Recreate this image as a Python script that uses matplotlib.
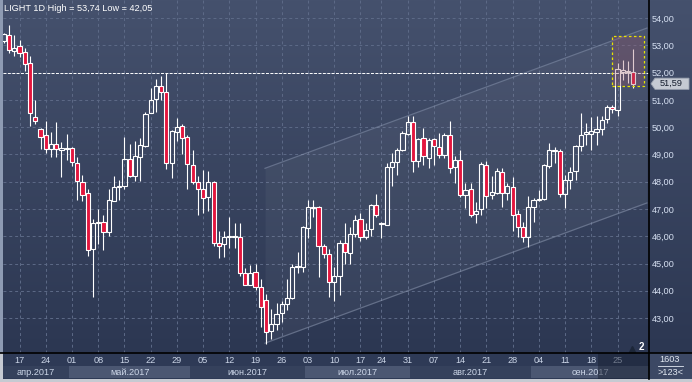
import numpy as np
import pandas as pd
import matplotlib
matplotlib.use("Agg")
import matplotlib.pyplot as plt
from matplotlib.lines import Line2D
from matplotlib.patches import Rectangle, Polygon
from matplotlib.transforms import blended_transform_factory
from matplotlib.ticker import FuncFormatter

plt.rcParams['font.family'] = ['Liberation Sans', 'DejaVu Sans']

# daily OHLC (12 Apr .. 28 Sep 2017)
opens = [53.17, 53.38, 52.80, 52.97, 52.74, 52.34, 50.38, 49.92, 49.71, 49.21,
         49.37, 49.15, 49.19, 49.22, 48.69, 48.00, 47.57, 45.52, 46.47, 46.51,
         46.16, 47.30, 47.81, 47.85, 48.82, 48.22, 48.91, 49.31, 50.53, 51.02,
         51.51, 51.28, 48.67, 49.83, 50.04, 49.63, 48.61, 48.00, 47.75, 47.43,
         47.98, 45.77, 45.70, 45.98, 45.98, 45.98, 44.67, 44.23, 44.70, 44.13,
         43.68, 42.53, 42.77, 43.17, 43.51, 43.72, 44.88, 44.86, 46.29, 47.02,
         47.08, 45.64, 45.35, 44.33, 44.55, 45.77, 45.39, 46.10, 46.65, 45.98,
         46.25, 47.13, 46.46, 46.41, 48.55, 48.73, 49.16, 49.73, 50.17, 48.77,
         49.59, 48.88, 49.55, 49.28, 48.98, 49.71, 48.53, 48.79, 47.51, 47.72,
         46.81, 46.99, 48.61, 47.53, 47.59, 48.34, 47.57, 47.79, 46.80, 46.35,
         45.96, 47.06, 47.33, 47.35, 48.57, 49.12, 49.12, 47.55, 48.06, 48.40,
         49.32, 49.73, 49.75, 49.83, 49.93, 50.30, 50.73, 50.63, 52.03, 52.01,
         52.03]
highs = [53.45, 53.74, 53.38, 53.19, 52.89, 52.61, 50.99, 49.95, 50.22, 49.81,
         50.19, 49.47, 49.75, 49.27, 48.91, 48.24, 47.75, 46.65, 46.99, 46.78,
         47.75, 48.21, 48.08, 49.63, 49.38, 49.49, 49.61, 50.56, 51.42, 51.76,
         51.87, 51.97, 49.90, 50.32, 50.11, 49.71, 49.16, 48.22, 48.43, 48.39,
         48.02, 46.19, 46.19, 46.69, 46.49, 46.47, 44.82, 44.94, 44.98, 44.42,
         43.87, 43.33, 43.54, 43.62, 44.45, 44.98, 45.43, 46.38, 47.33, 47.33,
         47.10, 45.70, 45.52, 44.88, 45.86, 46.47, 46.35, 46.78, 46.85, 46.49,
         47.20, 47.55, 46.52, 48.69, 49.04, 49.25, 49.84, 50.41, 50.41, 49.60,
         49.96, 49.60, 49.60, 49.77, 49.80, 50.23, 48.94, 49.16, 47.96, 47.96,
         47.26, 48.73, 48.77, 48.21, 48.49, 48.50, 47.94, 48.16, 46.96, 46.53,
         47.47, 47.39, 47.69, 48.66, 49.43, 49.28, 49.20, 48.24, 48.53, 49.36,
         50.51, 50.16, 50.36, 50.41, 50.41, 50.81, 50.80, 52.35, 52.46, 52.43,
         52.85]
lows = [53.10, 52.71, 52.62, 52.56, 52.07, 50.05, 50.10, 49.19, 49.04, 48.89,
        48.92, 48.18, 48.79, 48.58, 47.33, 47.30, 45.27, 43.78, 45.71, 45.49,
        46.01, 47.28, 47.33, 47.73, 48.18, 48.03, 48.03, 49.26, 50.50, 50.56,
        50.99, 48.45, 48.14, 49.50, 49.01, 47.75, 47.91, 46.78, 46.86, 46.93,
        45.64, 45.21, 45.25, 45.56, 45.56, 44.55, 44.21, 44.21, 44.03, 42.68,
        42.05, 42.25, 42.56, 42.86, 43.31, 43.70, 44.66, 44.69, 45.92, 46.71,
        44.51, 45.19, 43.78, 43.63, 43.84, 45.00, 45.00, 45.98, 45.83, 45.90,
        46.00, 46.69, 45.92, 46.41, 47.84, 48.24, 49.14, 49.70, 48.36, 48.55,
        48.62, 48.51, 48.62, 48.86, 48.86, 48.33, 47.96, 47.45, 47.02, 46.69,
        46.47, 46.78, 47.02, 47.35, 47.55, 47.06, 47.33, 46.20, 45.96, 45.80,
        45.59, 46.53, 47.30, 47.33, 48.50, 48.67, 47.45, 47.02, 47.73, 48.08,
        49.13, 49.34, 49.16, 49.34, 49.72, 50.15, 50.50, 50.42, 51.73, 51.63,
        51.42]
closes = [53.41, 52.83, 52.89, 52.71, 52.30, 50.50, 50.22, 49.63, 49.19, 49.37,
          49.19, 49.23, 49.23, 48.73, 48.03, 47.53, 45.49, 46.47, 46.51, 46.16,
          47.33, 47.79, 47.85, 48.82, 48.22, 48.94, 49.34, 50.47, 50.99, 51.51,
          51.28, 48.67, 49.86, 49.99, 49.59, 48.65, 48.00, 47.75, 47.39, 47.98,
          45.77, 45.65, 45.96, 46.00, 46.00, 44.66, 44.23, 44.67, 44.13, 43.39,
          42.50, 42.78, 43.15, 43.51, 43.72, 44.86, 44.91, 46.35, 47.08, 47.08,
          45.64, 45.35, 44.33, 44.54, 45.74, 45.41, 46.07, 46.61, 45.98, 46.22,
          47.13, 46.77, 46.49, 48.53, 48.71, 49.16, 49.77, 50.17, 48.77, 49.55,
          48.94, 49.53, 49.31, 48.98, 49.71, 48.49, 48.79, 47.51, 47.69, 46.78,
          46.92, 48.65, 47.49, 47.61, 48.40, 47.59, 47.84, 46.78, 46.35, 45.98,
          47.08, 47.33, 47.36, 48.61, 49.16, 49.16, 47.55, 48.06, 48.36, 49.31,
          49.71, 49.81, 49.86, 49.93, 50.26, 50.73, 50.66, 52.12, 52.09, 52.06,
          51.59]

dates = pd.bdate_range('2017-04-12', '2017-09-28').drop(pd.Timestamp('2017-07-20'))
month_names = ['апр', 'май', 'июн', 'июл', 'авг', 'сен']
price_ticks = list(range(43, 55))

# drawings on the chart
channel_x = [49.8, 122.6]
channel_upper = [48.49, 53.63]
channel_lower = [42.08, 47.22]
hline_level = 51.98
box_x = [116.0, 122.1]
box_y = [51.51, 53.34]
title = 'LIGHT 1D High = 53,74 Low = 42,05'

W, H = 692, 382
fig = plt.figure(figsize=(W / 100, H / 100), dpi=100, facecolor='#c6cad2')


def box(l, t, r, b):
    return [l / W, 1 - b / H, (r - l) / W, (b - t) / H]


top_c = np.array([0x45, 0x51, 0x6d]) / 255
bot_c = np.array([0x2c, 0x37, 0x52]) / 255
t = np.linspace(0, 1, 256)[:, None]
grad = (top_c * (1 - t) + bot_c * t)[:, None, :]

col = fig.add_axes(box(649, 0, 692, 353), zorder=0)
col.imshow(grad, extent=[0, 1, 0, 1], aspect='auto')
col.set_axis_off()

ax = fig.add_axes(box(3, 0, 649, 353), zorder=1)
xlim = (-0.15, 123.0)
ylim = (41.72, 54.66)
ax.imshow(grad, extent=[xlim[0], xlim[1], ylim[0], ylim[1]], aspect='auto', zorder=0)
ax.set_xlim(xlim)
ax.set_ylim(ylim)
for s in ax.spines.values():
    s.set_visible(False)

x = np.arange(len(opens))
o, h, l, c = map(np.array, (opens, highs, lows, closes))
mondays = [i for i, d in enumerate(dates) if d.weekday() == 0]

ax.set_xticks(mondays)
ax.set_yticks(price_ticks)
ax.grid(True, color='#5d6a87', linestyle=(0, (3, 3)), linewidth=0.7, zorder=0.5)
ax.set_axisbelow(True)
ax.tick_params(axis='x', length=0, labelbottom=False)
ax.yaxis.tick_right()
ax.tick_params(axis='y', length=0, pad=2.2, labelsize=6.6, labelcolor='#d6e0f2')
ax.yaxis.set_major_formatter(FuncFormatter(lambda v, p: f'{v:.2f}'.replace('.', ',')))

# trend channel
ax.fill_between(channel_x, channel_lower, channel_upper, color='white', alpha=0.045, lw=0, zorder=1)
ax.plot(channel_x, channel_upper, color='#8f9bb4', lw=0.9, alpha=0.5, zorder=1.5)
ax.plot(channel_x, channel_lower, color='#8f9bb4', lw=0.9, alpha=0.5, zorder=1.5)

ax.axhline(hline_level, color='white', lw=0.7, ls=(0, (3, 1.5)), zorder=2)

# candles
up = c >= o
body_top = np.maximum(o, c)
body_bot = np.minimum(o, c)
ax.vlines(x, body_top, h, color='white', lw=0.8, zorder=3)
ax.vlines(x, l, body_bot, color='white', lw=0.8, zorder=3)
hgt = np.maximum(body_top - body_bot, 0.03)
ax.bar(x[up], hgt[up], bottom=body_bot[up], width=0.8, color='none',
       edgecolor='white', linewidth=0.8, zorder=3)
ax.bar(x[~up], hgt[~up], bottom=body_bot[~up], width=0.8, color='#e3163e',
       edgecolor='white', linewidth=0.8, zorder=3)

# highlighted box
ax.add_patch(Rectangle((box_x[0], box_y[0]), box_x[1] - box_x[0], box_y[1] - box_y[0],
                       facecolor='#955164', alpha=0.3, lw=0, zorder=4))
ax.add_patch(Rectangle((box_x[0], box_y[0]), box_x[1] - box_x[0], box_y[1] - box_y[0],
                       fill=False, edgecolor='#e8e400', lw=0.9, ls=(0, (2, 2)), zorder=5))

ax.text(0.0015, 0.977, title, transform=ax.transAxes, fontsize=6.6, color='white',
        ha='left', va='center')
ax.plot(0.9737, 0.0127, marker='^', ms=4.5, color='#1c2638', transform=ax.transAxes,
        clip_on=False, zorder=6)
ax.text(0.9876, 0.016, '2', transform=ax.transAxes, fontsize=7, fontweight='bold',
        color='white', ha='center', va='center', zorder=6)

# last price tag on the price scale
last = closes[-1]
bt = blended_transform_factory(fig.transFigure, ax.transData)
hh = 5.6 / 27.27
tag = Polygon([(651 / W, last), (655 / W, last + hh), (689 / W, last + hh),
               (689 / W, last - hh), (655 / W, last - hh)], closed=True,
              transform=bt, facecolor='#c5cad3', edgecolor='#9aa2b0', lw=0.6,
              clip_on=False, zorder=7)
ax.add_patch(tag)
ax.text(671 / W, last, f'{last:.2f}'.replace('.', ','), transform=bt, fontsize=6.6,
        color='#141c2c', ha='center', va='center', zorder=8, clip_on=False)

# date scale
axb = fig.add_axes(box(3, 353, 649, 379), zorder=1)
axb.set_xlim(xlim)
axb.set_ylim(0, 1)
axb.set_facecolor('#2e3a56')
axb.set_xticks([])
axb.set_yticks([])
for s in axb.spines.values():
    s.set_visible(False)

for i in mondays:
    axb.text(i, 0.70, dates[i].strftime('%d'), ha='center', va='center',
             fontsize=6.6, color='#ccd6e8')

months = sorted(set(d.month for d in dates))
for k, m in enumerate(months):
    idx = [i for i, d in enumerate(dates) if d.month == m]
    a = idx[0] - 0.5
    b = idx[-1] + 0.5 if k < len(months) - 1 else xlim[1]
    axb.axvspan(a, b, ymin=0.03, ymax=0.5, color='#4b5772' if k % 2 else '#35415c', lw=0)
    axb.text((max(a, xlim[0]) + b) / 2, 0.26, f'{month_names[k]}.2017', ha='center',
             va='center', fontsize=6.6, color='#ccd6e8')

axb.axvspan(113.3, xlim[1], color='#1a2234', alpha=0.5, lw=0, zorder=5)

corner = fig.add_axes(box(649, 353, 692, 379), zorder=1)
corner.set_facecolor('#3c4864')
corner.set_xticks([])
corner.set_yticks([])
for s in corner.spines.values():
    s.set_visible(False)
corner.text(0.47, 0.74, '1603', ha='center', va='center', fontsize=6.6, color='#e2e8f2')
corner.plot([0.2, 0.8], [0.5, 0.5], color='#e2e8f2', lw=0.6)
corner.text(0.49, 0.25, '>123<', ha='center', va='center', fontsize=6.6, color='#e2e8f2')
corner.set_xlim(0, 1)
corner.set_ylim(0, 1)

# frame lines
fig.add_artist(Line2D([0, 1], [1 - 353 / H] * 2, color='black', lw=1.2))
fig.add_artist(Line2D([649 / W] * 2, [1 - 379 / H, 1], color='black', lw=1.2))
fig.add_artist(Rectangle((0, 1 - 353 / H), 3 / W, 353 / H, transform=fig.transFigure,
                         facecolor='#8e9bb3', lw=0))

fig.savefig('out.png', dpi=100, facecolor=fig.get_facecolor())
